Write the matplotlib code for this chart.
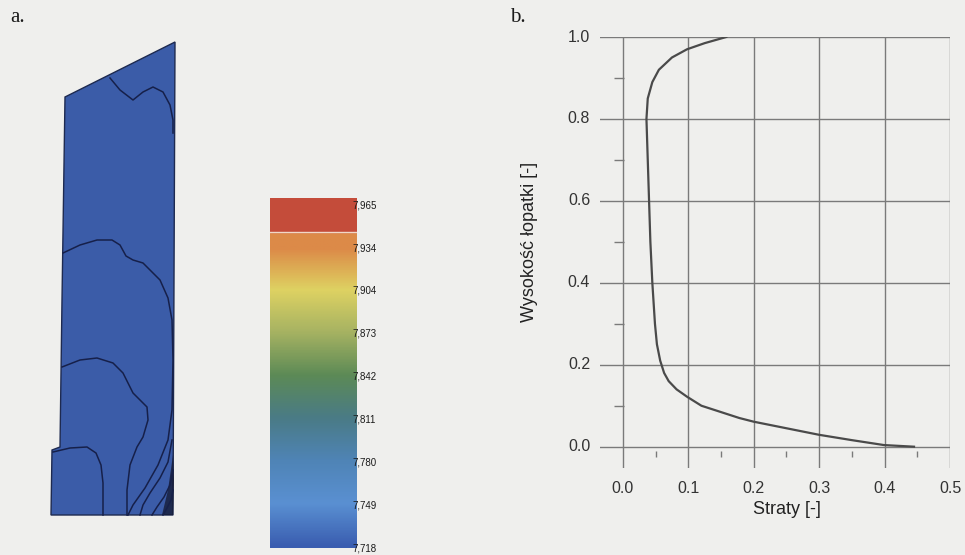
import numpy as np
import matplotlib
matplotlib.use("Agg")
import matplotlib.pyplot as plt
from matplotlib.colors import LinearSegmentedColormap
from matplotlib.patches import Polygon

# ---------------- data ----------------
# panel b: loss profile along blade height
losses = [0.158, 0.125, 0.098, 0.075, 0.055, 0.045, 0.038, 0.036, 0.038, 0.040,
          0.042, 0.045, 0.049, 0.052, 0.057, 0.063, 0.070, 0.082, 0.098, 0.120,
          0.149, 0.178, 0.200, 0.250, 0.300, 0.350, 0.399, 0.445]
height = [1.000, 0.985, 0.970, 0.950, 0.920, 0.890, 0.850, 0.800, 0.700, 0.600,
          0.500, 0.400, 0.300, 0.250, 0.210, 0.180, 0.160, 0.140, 0.122, 0.100,
          0.085, 0.070, 0.061, 0.045, 0.029, 0.016, 0.004, 0.000]
x_ticks = [0.0, 0.1, 0.2, 0.3, 0.4, 0.5]
x_tick_labels = ["0.0", "0.1", "0.2", "0.3", "0.4", "0.5"]
y_ticks = [0.0, 0.2, 0.4, 0.6, 0.8, 1.0]
y_tick_labels = ["0.0", "0.2", "0.4", "0.6", "0.8", "1.0"]
x_minor = [0.05, 0.15, 0.25, 0.35, 0.45]
y_minor = [0.1, 0.3, 0.5, 0.7, 0.9]

# panel a: colour scale
cbar_levels = [7.718, 7.749, 7.780, 7.811, 7.842, 7.873, 7.904, 7.934, 7.965]
cbar_labels = ["7,718", "7,749", "7,780", "7,811", "7,842", "7,873", "7,904", "7,934", "7,965"]
cbar_colors = ["#3a5db0", "#5a90d2", "#4f84b6", "#4a7b86", "#5c8a56",
               "#a5b262", "#ded262", "#dc8a48", "#dc8a48"]
cbar_top_band = [7.9455, 7.970]

# panel a: blade outline and contour lines (picture coordinates)
blade_x = [65, 175, 173, 51, 52, 60, 62, 65]
blade_y = [97, 42, 515, 515, 450, 447, 300, 97]
dark_corner_x = [173, 174, 173, 162, 168]
dark_corner_y = [455, 480, 515, 515, 490]
contour_lines = [
    ([110, 120, 133, 143, 153, 163, 170, 173, 173],
     [78, 90, 100, 92, 87, 92, 105, 120, 133]),
    ([63, 80, 97, 112, 120, 126, 133, 143, 160, 168, 172, 173, 172, 168, 158, 145, 133, 128],
     [253, 245, 240, 240, 245, 256, 260, 263, 280, 298, 320, 360, 410, 440, 465, 488, 505, 515]),
    ([62, 80, 97, 113, 123, 133, 147, 148, 143, 137, 130, 127, 127],
     [367, 360, 358, 363, 373, 393, 407, 420, 437, 447, 465, 490, 515]),
    ([53, 70, 87, 96, 101, 103, 103],
     [452, 448, 447, 453, 465, 483, 515]),
    ([172, 168, 160, 150, 143, 140],
     [440, 462, 478, 493, 505, 515]),
    ([173, 170, 164, 157, 152],
     [470, 485, 497, 507, 515]),
    ([173, 171, 167, 163],
     [490, 500, 508, 515]),
]

# ---------------- figure ----------------
BG = "#efefed"
fig = plt.figure(figsize=(9.65, 5.55), dpi=100, facecolor=BG)

# overlay axes in picture coordinates for panel a
axa = fig.add_axes([0, 0, 1, 1])
axa.set_xlim(0, 965)
axa.set_ylim(555, 0)
axa.axis("off")
axa.add_patch(Polygon(np.column_stack([blade_x, blade_y]), closed=True,
                      facecolor="#3b5ca8", edgecolor="#1e2a50", lw=1.0))
axa.add_patch(Polygon(np.column_stack([dark_corner_x, dark_corner_y]), closed=True,
                      facecolor="#141830", edgecolor="none", alpha=0.75))
for cx, cy in contour_lines:
    axa.plot(cx, cy, color="#16204a", lw=1.1)
axa.text(10, 22, "a.", fontsize=15, family="Liberation Serif", color="#1a1a1a")
axa.text(510, 22, "b.", fontsize=15, family="Liberation Serif", color="#1a1a1a")

# colour bar
axc = fig.add_axes([270 / 965, 1 - 548 / 555, 87 / 965, 350 / 555])
vmin, vmax = 7.7173, cbar_top_band[1]
cmap = LinearSegmentedColormap.from_list(
    "c", list(zip([(v - cbar_levels[0]) / (cbar_levels[-1] - cbar_levels[0]) for v in cbar_levels],
                  cbar_colors)))
grad = np.linspace(vmin, vmax, 400).reshape(-1, 1)
axc.imshow(grad, aspect="auto", cmap=cmap, vmin=cbar_levels[0], vmax=cbar_levels[-1],
           origin="lower", extent=[0, 1, vmin, vmax], interpolation="bilinear")
axc.axhspan(cbar_top_band[0], cbar_top_band[1], color="#c44c3a")
axc.axhline(cbar_top_band[0], color="#f0d8c8", lw=1)
axc.set_xlim(0, 1)
axc.set_ylim(vmin, vmax)
axc.set_xticks([])
axc.yaxis.tick_right()
axc.set_yticks(cbar_levels)
axc.set_yticklabels(cbar_labels, fontsize=7, family="Liberation Sans", color="#1a1a1a")
axc.tick_params(axis="y", length=0, pad=-3)
for s in axc.spines.values():
    s.set_visible(False)

# panel b
axb = fig.add_axes([600 / 965, 1 - 468 / 555, 350 / 965, 431 / 555])
axb.set_facecolor(BG)
axb.set_xlim(-0.035, 0.5)
axb.set_ylim(-0.052, 1.0)
for s in axb.spines.values():
    s.set_visible(False)
for xv in x_ticks:
    axb.axvline(xv, color="#7a7a7a", lw=1.0, zorder=1)
for yv in y_ticks:
    axb.axhline(yv, color="#7a7a7a", lw=1.0, zorder=1)
axb.plot(x_minor, [-0.017] * len(x_minor), linestyle="none", marker="|", ms=5,
         mew=1.0, color="#7a7a7a")
axb.plot([-0.006] * len(y_minor), y_minor, linestyle="none", marker="_", ms=7,
         mew=1.0, color="#7a7a7a")
axb.plot(losses, height, color="#4a4a4a", lw=1.6, zorder=3)
axb.set_xticks([])
axb.set_yticks([])
for xv, lab in zip(x_ticks, x_tick_labels):
    axb.text(xv, -0.102, lab, ha="center", va="center", fontsize=11.5,
             family="Liberation Sans", color="#333333")
for yv, lab in zip(y_ticks, y_tick_labels):
    axb.text(-0.05, yv, lab, ha="right", va="center", fontsize=11.5,
             family="Liberation Sans", color="#333333")
axb.text(0.25, -0.153, "Straty [-]", ha="center", va="center", fontsize=13,
         family="Liberation Sans", color="#222222")
axb.text(-0.142, 0.5, "Wysokość łopatki [-]", ha="center", va="center", fontsize=13,
         rotation=90, family="Liberation Sans", color="#222222")

fig.savefig("out.png", dpi=100, facecolor=BG)
